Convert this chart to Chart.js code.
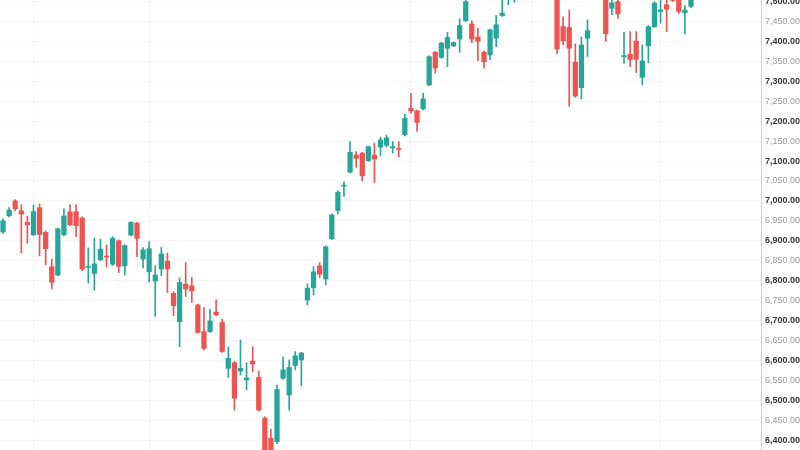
<!DOCTYPE html>
<html>
<head>
<meta charset="utf-8">
<script src="https://cdn.jsdelivr.net/npm/chart.js@4.4.0/dist/chart.umd.min.js"></script>
<style>
  html, body { margin: 0; padding: 0; background: #fff; }
  #wrap { width: 800px; height: 450px; }
</style>
</head>
<body>
<div id="wrap"><canvas id="candleChart" width="800" height="450"></canvas></div>
<script>
// daily OHLC (a few candles sit above the visible range)
const opens = [
  6922, 6963, 7000, 6975, 6946, 6915, 6983, 6921, 6835, 6814,
  6915, 6972, 6973, 6957, 6833, 6818, 6852, 6861, 6841, 6900,
  6837, 6914, 6944, 6854, 6822, 6799, 6829, 6849, 6768, 6697,
  6791, 6787, 6739, 6672, 6672, 6721, 6695, 6580, 6594, 6573,
  6551, 6598, 6557, 6455, 6404, 6396, 6555, 6513, 6587, 6601,
  6751, 6782, 6837, 6804, 6905, 6976, 7037, 7072, 7115, 7120,
  7101, 7115, 7135, 7140, 7133, 7131, 7166, 7232, 7226, 7231,
  7291, 7373, 7360, 7383, 7389, 7406, 7452, 7444, 7411, 7373,
  7366, 7408, 7465, 7520, 7530, 7550, 7570, 7560, 7590, 7575,
  7545, 7535, 7437, 7435, 7348, 7284, 7408, 7515, 7535, 7525,
  7483, 7500, 7362, 7368, 7401, 7310, 7389, 7437, 7475, 7492,
  7525, 7520, 7472, 7488
];
const highs = [
  6955, 6983, 7003, 6990, 6962, 6990, 6992, 6925, 6854, 6932,
  6980, 6990, 6990, 6960, 6882, 6907, 6904, 6889, 6910, 6902,
  6890, 6948, 6946, 6883, 6898, 6837, 6884, 6869, 6772, 6807,
  6845, 6808, 6741, 6733, 6728, 6752, 6703, 6634, 6597, 6651,
  6594, 6634, 6573, 6458, 6427, 6538, 6608, 6601, 6622, 6620,
  6792, 6835, 6845, 6887, 6967, 7025, 7048, 7149, 7124, 7122,
  7138, 7145, 7160, 7165, 7149, 7149, 7217, 7270, 7228, 7270,
  7364, 7375, 7398, 7423, 7399, 7457, 7515, 7452, 7433, 7376,
  7431, 7465, 7520, 7545, 7560, 7580, 7595, 7600, 7610, 7590,
  7565, 7545, 7462, 7479, 7394, 7411, 7454, 7545, 7560, 7540,
  7510, 7510, 7423, 7425, 7425, 7391, 7440, 7500, 7510, 7510,
  7540, 7530, 7490, 7530
];
const lows = [
  6918, 6960, 6975, 6870, 6894, 6913, 6862, 6840, 6779, 6812,
  6913, 6938, 6910, 6825, 6794, 6776, 6850, 6834, 6838, 6820,
  6814, 6912, 6860, 6832, 6797, 6710, 6812, 6770, 6712, 6634,
  6760, 6745, 6668, 6626, 6670, 6712, 6620, 6557, 6475, 6563,
  6526, 6571, 6473, 6340, 6350, 6390, 6553, 6475, 6576, 6536,
  6739, 6764, 6808, 6789, 6903, 6967, 7011, 7070, 7084, 7050,
  7099, 7046, 7113, 7135, 7120, 7110, 7163, 7220, 7174, 7228,
  7289, 7320, 7358, 7337, 7387, 7373, 7450, 7397, 7352, 7333,
  7354, 7387, 7463, 7492, 7498, 7530, 7545, 7540, 7560, 7530,
  7515, 7369, 7391, 7237, 7260, 7256, 7362, 7508, 7512, 7400,
  7467, 7458, 7345, 7337, 7322, 7291, 7347, 7435, 7446, 7425,
  7500, 7470, 7419, 7485
];
const closes = [
  6950, 6977, 6980, 6967, 6940, 6973, 6916, 6880, 6796, 6930,
  6962, 6940, 6938, 6829, 6835, 6842, 6879, 6859, 6906, 6836,
  6888, 6946, 6906, 6877, 6880, 6814, 6867, 6829, 6737, 6795,
  6779, 6774, 6670, 6630, 6699, 6714, 6622, 6605, 6505, 6580,
  6556, 6591, 6475, 6360, 6370, 6527, 6576, 6582, 6611, 6618,
  6781, 6822, 6816, 6885, 6965, 7022, 7039, 7122, 7107, 7063,
  7136, 7105, 7153, 7158, 7136, 7129, 7207, 7226, 7197, 7256,
  7362, 7333, 7396, 7410, 7397, 7440, 7500, 7406, 7400, 7349,
  7429, 7442, 7471, 7530, 7550, 7570, 7560, 7590, 7575, 7545,
  7535, 7381, 7402, 7383, 7263, 7391, 7427, 7535, 7545, 7419,
  7497, 7469, 7364, 7355, 7355, 7351, 7437, 7496, 7479, 7481,
  7503, 7475, 7479, 7520
];

const totalSlots = 125;               // axis runs on past the last candle
const monthLines = [5, 24, 67, 87, 108];
const yMin = 6375;
const yMax = 7504;
const yStep = 50;

const upColor = "#26a69a";
const downColor = "#ef5350";

const labels = [];
for (let i = 0; i < totalSlots; i++) labels.push(String(i + 1));

const candleColors = opens.map((o, i) => (closes[i] >= o ? upColor : downColor));

// round hundreds get the darker, bold label
function isMajor(c) {
  return c.tick ? c.tick.value % 100 === 0 : false;
}

const ctx = document.getElementById("candleChart").getContext("2d");

new Chart(ctx, {
  type: "bar",
  data: {
    labels: labels,
    datasets: [
      {
        label: "wick",
        data: lows.map((l, i) => [l, highs[i]]),
        backgroundColor: candleColors,
        barThickness: 1,
        grouped: false,
        order: 2,
      },
      {
        label: "body",
        data: opens.map((o, i) => [o, closes[i]]),
        backgroundColor: candleColors,
        barThickness: 4.6,
        minBarLength: 1,
        grouped: false,
        order: 1,
      },
    ],
  },
  options: {
    responsive: false,
    animation: false,
    layout: { padding: 0 },
    plugins: {
      legend: { display: false },
      tooltip: { enabled: false },
    },
    scales: {
      x: {
        offset: true,
        ticks: { display: false, autoSkip: false },
        border: { display: false },
        grid: {
          offset: false,
          drawTicks: false,
          color: (c) => (c.tick && monthLines.includes(c.tick.value) ? "rgba(0,0,0,0.045)" : "rgba(0,0,0,0)"),
        },
      },
      y: {
        position: "right",
        min: yMin,
        max: yMax,
        border: { display: true, color: "#d2d2d2", width: 1 },
        grid: { color: "rgba(0,0,0,0.03)", drawTicks: false },
        ticks: {
          stepSize: yStep,
          includeBounds: false,
          padding: 4,
          color: (c) => (isMajor(c) ? "#333" : "#999"),
          font: (c) => ({
            family: "'Liberation Sans', Arial, sans-serif",
            size: 9,
            weight: isMajor(c) ? "bold" : "normal",
          }),
          callback: (v) => v.toLocaleString("en-US", { minimumFractionDigits: 2, maximumFractionDigits: 2 }),
        },
        afterFit: (scale) => {
          scale.width = 39;
          scale.paddingTop = 0;
          scale.paddingBottom = 0;
        },
      },
    },
  },
});
</script>
</body>
</html>
